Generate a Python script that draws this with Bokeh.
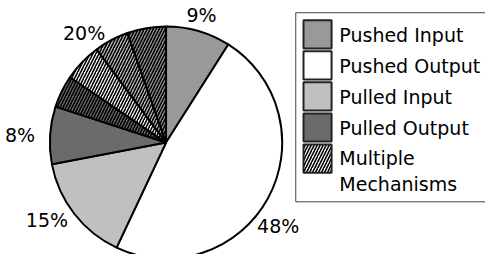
import numpy as np
from bokeh.plotting import figure
from bokeh.models import Range1d, ColumnDataSource
from bokeh.core.properties import value
from bokeh.embed import file_html
from bokeh.resources import INLINE

# ---- data ----
categories = ["Pushed Input", "Pushed Output", "Pulled Input", "Pulled Output", "Multiple Mechanisms"]
shares = [9, 48, 15, 8, 20]
share_labels = ["9%", "48%", "15%", "8%", "20%"]
# the "Multiple Mechanisms" slice is drawn as four hatched sub-slices (clockwise)
multiple_parts = [4.5, 5.3, 4.8, 5.4]
multiple_part_bases = ["Pulled Output", "Pushed Output", "Pulled Input", "Pushed Input"]
legend_labels = ["Pushed Input", "Pushed Output", "Pulled Input", "Pulled Output", "Multiple\nMechanisms"]

# ---- styles / layout (in reference-image pixel units) ----
fills = {"Pushed Input": "#999999", "Pushed Output": "#ffffff",
         "Pulled Input": "#c0c0c0", "Pulled Output": "#6b6b6b"}
FONT = value("DejaVu Sans")
W, H = 485, 254
REF_W, REF_H = 501, 270
CX, CY = 171, 151      # pie centre
R = 120
label_r = [140, 146, 148, 151, 144]
label_turn = [-1.0, 8.7, 4.0, -0.6, 0.0]   # degrees nudge of label placement


def px(X):
    return X - CX


def py(Y):
    return CY - Y


p = figure(width=W, height=H, output_backend="svg", toolbar_location=None,
           x_range=Range1d(px(0), px(REF_W)), y_range=Range1d(py(REF_H), py(0)),
           x_axis_type=None, y_axis_type=None, min_border=0)
p.grid.visible = False
p.outline_line_color = None
p.background_fill_color = "white"
p.border_fill_color = "white"

sh = np.array(shares, dtype=float) / 100.0
f_end = np.cumsum(sh)
f_start = f_end - sh


def ang(f):
    return np.pi / 2 - 2 * np.pi * np.asarray(f)


# solid slices
solid = ColumnDataSource(dict(
    s=ang(f_start[:4]), e=ang(f_end[:4]),
    c=[fills[c] for c in categories[:4]]))
p.wedge(x=0, y=0, radius=R, start_angle="s", end_angle="e", direction="clock",
        fill_color="c", line_color="black", line_width=2, source=solid)

# hatched sub-slices of Multiple Mechanisms
mp = np.array(multiple_parts) / 100.0
m_end = f_start[4] + np.cumsum(mp)
m_start = m_end - mp
hatched = ColumnDataSource(dict(
    s=ang(m_start), e=ang(m_end),
    c=[fills[b] for b in multiple_part_bases]))
p.wedge(x=0, y=0, radius=R, start_angle="s", end_angle="e", direction="clock",
        fill_color="c", line_color="black", line_width=2,
        hatch_pattern="/", hatch_color="black", hatch_weight=1.6, hatch_scale=6,
        source=hatched)

# percentage labels
mid = (f_start + f_end) / 2 * 360 + np.array(label_turn)
lx = np.array(label_r) * np.sin(np.radians(mid))
ly = np.array(label_r) * np.cos(np.radians(mid))
p.text(x=lx, y=ly, text=share_labels, text_font=FONT, text_font_size="19px",
       text_align="center", text_baseline="middle", text_color="black")

# legend box
LX0, LY0, LX1, LY1 = 305, 13, 530, 214
p.quad(left=px(LX0), right=px(LX1), top=py(LY0), bottom=py(LY1),
       fill_color="white", line_color="#444444", line_width=1)
pitch = 33
idx = np.arange(len(categories))
sw_top = 21 + pitch * idx
sw_left, sw_w, sw_h = 313, 29, 30
sw_fill = [fills.get(c, "#ffffff") for c in categories]
p.quad(left=px(sw_left), right=px(sw_left + sw_w),
       top=py(sw_top), bottom=py(sw_top + sw_h),
       fill_color=sw_fill[:4] + ["white"], line_color="#222222", line_width=2,
       hatch_pattern=[" ", " ", " ", " ", "/"], hatch_color="black",
       hatch_weight=1.6, hatch_scale=6)
ty = sw_top + 16
ty_adj = [ty[i] if "\n" not in legend_labels[i] else ty[i] + 12 for i in idx]
p.text(x=px(350), y=py(np.array(ty_adj)), text=legend_labels, text_font=FONT,
       text_font_size="19px", text_align="left", text_baseline="middle",
       text_color="black", text_line_height=1.2)

open("out.html", "w").write(file_html(p, INLINE))
